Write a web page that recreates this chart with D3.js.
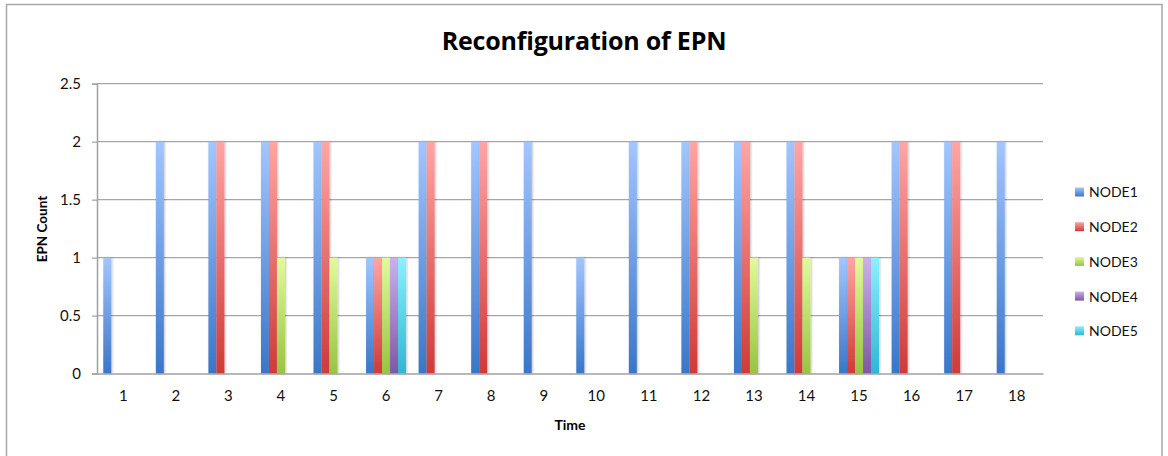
<!DOCTYPE html>
<html>
<head>
<meta charset="utf-8">
<script src="https://cdn.jsdelivr.net/npm/d3@7"></script>
<style>
  html, body { margin: 0; padding: 0; background: #fff; }
  svg { display: block; font-family: Lato, "Open Sans", sans-serif; }
</style>
</head>
<body>
<svg id="chart" width="1168" height="456"></svg>
<script>
// Time steps on the category axis
const times = ["1","2","3","4","5","6","7","8","9","10","11","12","13","14","15","16","17","18"];
const seriesNames = ["NODE1","NODE2","NODE3","NODE4","NODE5"];

// EPN count per node at each time step
const node1 = [1,2,2,2,2,1,2,2,2,1,2,2,2,2,1,2,2,2];
const node2 = [0,0,2,2,2,1,2,2,0,0,0,2,2,2,1,2,2,0];
const node3 = [0,0,0,1,1,1,0,0,0,0,0,0,1,1,1,0,0,0];
const node4 = [0,0,0,0,0,1,0,0,0,0,0,0,0,0,1,0,0,0];
const node5 = [0,0,0,0,0,1,0,0,0,0,0,0,0,0,1,0,0,0];
const yTicks = [0, 0.5, 1, 1.5, 2, 2.5];

const seriesValues = [node1, node2, node3, node4, node5];

// light (top) / dark (bottom) colours for each node
const palette = [
  { top: "#a2c6ff", bottom: "#3a76c8" },
  { top: "#ffa5a5", bottom: "#cf3a38" },
  { top: "#e2fa9c", bottom: "#98c440" },
  { top: "#cab0ee", bottom: "#7e58a6" },
  { top: "#8cf0ff", bottom: "#2fb6d6" }
];

const svg = d3.select("#chart");
const margin = { left: 97, right: 1043, top: 83.7, bottom: 373.6 };

// outer chart frame
svg.append("rect")
  .attr("x", 6.5).attr("y", 4.5)
  .attr("width", 1155.5).attr("height", 470)
  .attr("fill", "#fff")
  .attr("stroke", "#a8a8a8").attr("stroke-width", 1.5);

const defs = svg.append("defs");
palette.forEach((p, i) => {
  const g = defs.append("linearGradient")
    .attr("id", "grad" + i)
    .attr("x1", 0).attr("y1", 0).attr("x2", 0).attr("y2", 1);
  g.append("stop").attr("offset", "0%").attr("stop-color", p.top);
  g.append("stop").attr("offset", "100%").attr("stop-color", p.bottom);
});
const shadow = defs.append("filter").attr("id", "shadow")
  .attr("x", "-50%").attr("y", "-5%").attr("width", "200%").attr("height", "110%");
shadow.append("feDropShadow")
  .attr("dx", 1).attr("dy", 0).attr("stdDeviation", 1.2)
  .attr("flood-color", "#000").attr("flood-opacity", 0.25);

const x = d3.scaleBand().domain(times).range([margin.left, margin.right]).padding(0);
const bw = x.bandwidth();
const groupFrac = 0.761;
const xs = d3.scaleBand().domain(seriesNames)
  .range([bw * (1 - groupFrac) / 2, bw * (1 + groupFrac) / 2]).padding(0);
const y = d3.scaleLinear().domain([0, 2.5]).range([margin.bottom, margin.top]);

// horizontal gridlines
svg.append("g").selectAll("line").data(yTicks.filter(d => d > 0)).join("line")
  .attr("x1", margin.left).attr("x2", margin.right)
  .attr("y1", d => y(d)).attr("y2", d => y(d))
  .attr("stroke", "#a6a6a6").attr("stroke-width", 1.2);

// value axis
const yAxis = svg.append("g")
  .attr("transform", `translate(${margin.left},0)`)
  .call(d3.axisLeft(y).tickValues(yTicks).tickSize(5).tickPadding(11)
    .tickFormat(d => String(d)));
yAxis.select(".domain").attr("stroke", "#a0a0a0").attr("stroke-width", 1.5);
yAxis.selectAll(".tick line").attr("stroke", "#a0a0a0").attr("stroke-width", 1.2);
yAxis.selectAll("text").attr("font-size", 15).attr("fill", "#111")
  .attr("font-family", "Lato, sans-serif");

// bars
const groups = svg.append("g").selectAll("g").data(times).join("g")
  .attr("transform", d => `translate(${x(d)},0)`);
groups.selectAll("rect")
  .data((t, ti) => seriesNames.map((s, si) => ({ s, si, v: seriesValues[si][ti] })).filter(d => d.v > 0))
  .join("rect")
  .attr("x", d => xs(d.s))
  .attr("width", xs.bandwidth())
  .attr("y", d => y(d.v))
  .attr("height", d => y(0) - y(d.v))
  .attr("fill", d => `url(#grad${d.si})`)
  .attr("filter", "url(#shadow)");

// category axis
const xAxis = svg.append("g")
  .attr("transform", `translate(0,${margin.bottom})`)
  .call(d3.axisBottom(x).tickSize(0).tickPadding(17));
xAxis.select(".domain").attr("stroke", "#a0a0a0").attr("stroke-width", 1.5);
xAxis.selectAll("text").attr("font-size", 15).attr("fill", "#111")
  .attr("font-family", "Lato, sans-serif");

// title and axis titles
svg.append("text")
  .attr("x", 584).attr("y", 49.5)
  .attr("text-anchor", "middle")
  .attr("font-family", "'Open Sans', sans-serif")
  .attr("font-size", 25).attr("font-weight", "bold").attr("fill", "#000")
  .attr("letter-spacing", -0.2)
  .text("Reconfiguration of EPN");

svg.append("text")
  .attr("x", (margin.left + margin.right) / 2).attr("y", 430)
  .attr("text-anchor", "middle")
  .attr("font-size", 14).attr("font-weight", "bold").attr("fill", "#000")
  .text("Time");

svg.append("text")
  .attr("transform", `translate(47,229) rotate(-90)`)
  .attr("text-anchor", "middle")
  .attr("font-size", 13.5).attr("font-weight", "bold").attr("fill", "#000")
  .text("EPN Count");

// legend
const legend = svg.append("g").selectAll("g").data(seriesNames).join("g")
  .attr("transform", (d, i) => `translate(1075,${192.5 + i * 34.7})`);
legend.append("rect")
  .attr("x", 0).attr("y", -5).attr("width", 9).attr("height", 9)
  .attr("fill", (d, i) => `url(#grad${i})`);
legend.append("text")
  .attr("x", 14).attr("y", 0).attr("dy", "0.35em")
  .attr("font-size", 14).attr("fill", "#111")
  .text(d => d);
</script>
</body>
</html>
